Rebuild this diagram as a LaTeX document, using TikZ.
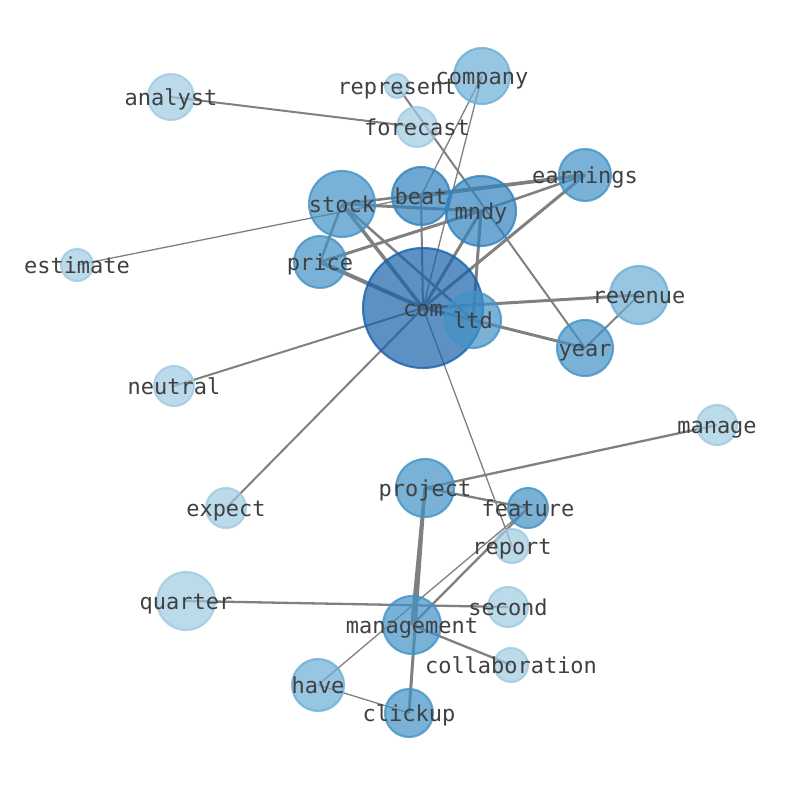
\documentclass[tikz,border=0pt]{standalone}
\usepackage{fontspec}
\setmonofont{DejaVu Sans Mono}
\usetikzlibrary{backgrounds}

\definecolor{blueA}{HTML}{9ECAE1}
\definecolor{blueB}{HTML}{6BAED6}
\definecolor{blueC}{HTML}{4292C6}
\definecolor{blueD}{HTML}{3182BD}
\definecolor{blueE}{HTML}{1862AB}
\definecolor{edgegray}{HTML}{808080}

\tikzset{
  word/.style 2 args={circle, inner sep=0pt, minimum size=#1*0.04cm,
    fill=#2, draw=#2, fill opacity=0.7, draw opacity=0.8, line width=1.2pt},
  tag/.style={font=\ttfamily\fontsize{12.5}{14}\selectfont, text=black!75,
    inner sep=0pt, anchor=base, yshift=-0.165cm},
  w/.style={draw=edgegray, line width=#1*0.57pt},
}

\begin{document}
\begin{tikzpicture}[x=0.02cm, y=-0.02cm]
   \useasboundingbox (0,0) rectangle (794,790);

   % word nodes
   \node[word={60}{blueE}] (com) at (423,308) {};
   \node[word={28}{blueC}] (ltd) at (473,320) {};
   \node[word={35}{blueD}] (mndy) at (481,211) {};
   \node[word={29}{blueD}] (beat) at (421,196) {};
   \node[word={33}{blueC}] (stock) at (342,204) {};
   \node[word={26}{blueC}] (price) at (320,262) {};
   \node[word={26}{blueC}] (earnings) at (585,175) {};
   \node[word={28}{blueB}] (company) at (482,76) {};
   \node[word={12}{blueA}] (represent) at (397,86) {};
   \node[word={20}{blueA}] (forecast) at (417,127) {};
   \node[word={23}{blueA}] (analyst) at (171,97) {};
   \node[word={16}{blueA}] (estimate) at (77,265) {};
   \node[word={20}{blueA}] (neutral) at (174,386) {};
   \node[word={29}{blueB}] (revenue) at (639,295) {};
   \node[word={28}{blueC}] (year) at (585,348) {};
   \node[word={20}{blueA}] (manage) at (717,425) {};
   \node[word={29}{blueC}] (project) at (425,488) {};
   \node[word={20}{blueC}] (feature) at (528,508) {};
   \node[word={17}{blueA}] (report) at (512,546) {};
   \node[word={20}{blueA}] (expect) at (226,508) {};
   \node[word={29}{blueA}] (quarter) at (186,601) {};
   \node[word={20}{blueA}] (second) at (508,607) {};
   \node[word={29}{blueC}] (management) at (412,625) {};
   \node[word={17}{blueA}] (collaboration) at (511,665) {};
   \node[word={26}{blueB}] (have) at (318,685) {};
   \node[word={24}{blueC}] (clickup) at (409,713) {};

   % connectors, behind the circles
   \begin{scope}[on background layer]
   \path
    (analyst.center) edge[w=2] (forecast.center)
    (estimate.center) edge[w=1.3] (beat.center)
    (neutral.center) edge[w=2] (com.center)
    (expect.center) edge[w=2] (com.center)
    (company.center) edge[w=1.3] (com.center)
    (company.center) edge[w=1.3] (beat.center)
    (represent.center) edge[w=2] (year.center)
    (stock.center) edge[w=3] (mndy.center)
    (stock.center) edge[w=2.5] (earnings.center)
    (beat.center) edge[w=3.5] (earnings.center)
    (price.center) edge[w=3] (mndy.center)
    (mndy.center) edge[w=2.5] (earnings.center)
    (com.center) edge[w=3] (earnings.center)
    (stock.center) edge[w=2.5] (price.center)
    (stock.center) edge[w=3.5] (com.center)
    (stock.center) edge[w=2.5] (ltd.center)
    (price.center) edge[w=4] (com.center)
    (beat.center) edge[w=2] (com.center)
    (mndy.center) edge[w=3] (com.center)
    (mndy.center) edge[w=3] (ltd.center)
    (com.center) edge[w=3] (ltd.center)
    (com.center) edge[w=3] (revenue.center)
    (ltd.center) edge[w=3] (year.center)
    (year.center) edge[w=2] (revenue.center)
    (com.center) edge[w=1.3] (report.center)
    (project.center) edge[w=2.3] (manage.center)
    (project.center) edge[w=2.3] (feature.center)
    (project.center) edge[w=3.5] (management.center)
    (project.center) edge[w=3] (clickup.center)
    (management.center) edge[w=2.3] (feature.center)
    (have.center) edge[w=1.3] (feature.center)
    (quarter.center) edge[w=2.3] (second.center)
    (management.center) edge[w=2.3] (collaboration.center)
    (have.center) edge[w=1.3] (clickup.center)
    ;
   \end{scope}

   % labels on top
   \foreach \n in {com,ltd,mndy,beat,stock,price,earnings,company,represent,
     forecast,analyst,estimate,neutral,revenue,year,manage,project,feature,
     report,expect,quarter,second,management,collaboration,have,clickup}
     \node[tag] (\n-t) at (\n) {\n};
\end{tikzpicture}
\end{document}
